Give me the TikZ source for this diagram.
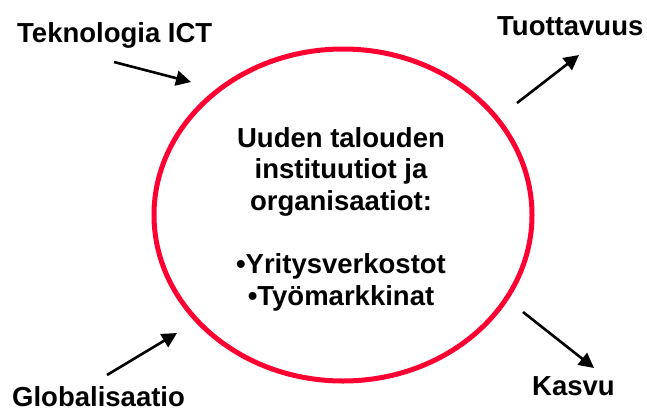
\documentclass[tikz,border=0pt]{standalone}
\usepackage{fontspec}
\setmainfont{Liberation Sans}
\usetikzlibrary{arrows.meta}
\definecolor{ringred}{RGB}{255,0,51}
\begin{document}
\begin{tikzpicture}[x=1bp,y=-1bp,
  label/.style={font=\fontsize{27.5bp}{31.6bp}\selectfont\bfseries, inner sep=0pt},
  flow/.style={line width=2.6bp, -{Triangle[length=15bp,width=15bp]}}]
  \useasboundingbox (0,0) rectangle (647,412);

  % central ring with the institutions of the new economy
  \draw[ringred, line width=5bp] (343,215) ellipse [x radius=189, y radius=166];
  \node[label, align=center] (core) at (341,219)
    {Uuden talouden\\instituutiot ja\\organisaatiot:\\[31.6bp]%
     \textbullet Yritysverkostot\\\textbullet Työmarkkinat};

  % drivers and outcomes
  \node[label, anchor=base west] (ict)  at (17,42)   {Teknologia ICT};
  \node[label, anchor=base west] (glob) at (12,406)  {Globalisaatio};
  \node[label, anchor=base west] (tuot) at (497,35)  {Tuottavuus};
  \node[label, anchor=base west] (kasv) at (532,395) {Kasvu};

  % arrow end points
  \coordinate (ictA)  at (114,62);   \coordinate (ictB)  at (191,82);
  \coordinate (globA) at (107,375);  \coordinate (globB) at (177,333);
  \coordinate (tuotA) at (517,103);  \coordinate (tuotB) at (579,55);
  \coordinate (kasvA) at (523,312);  \coordinate (kasvB) at (594,368);

  \draw[flow] (ictA) -- (ictB);
  \draw[flow] (globA) -- (globB);
  \draw[flow] (tuotA) -- (tuotB);
  \draw[flow] (kasvA) -- (kasvB);
\end{tikzpicture}
\end{document}
